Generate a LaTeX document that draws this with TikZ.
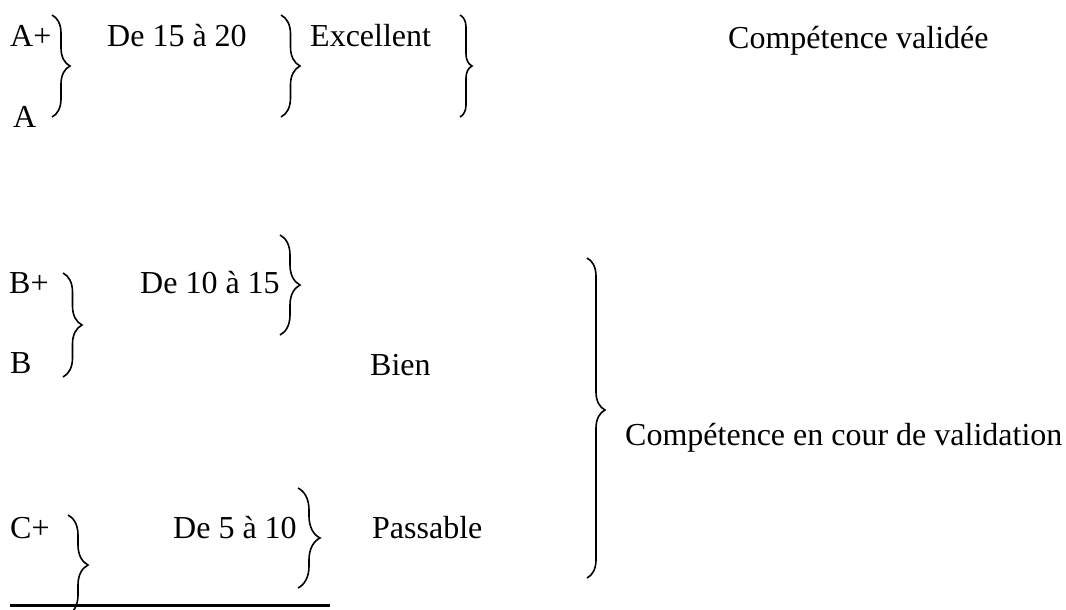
\documentclass[tikz,border=0pt]{standalone}
\usepackage{fontspec}
\setmainfont{Liberation Serif}
\usetikzlibrary{decorations.pathreplacing}
\begin{document}
\begin{tikzpicture}[x=1pt,y=-1pt,
  lbl/.style={anchor=base west,inner sep=0pt,font=\fontsize{32}{38}\selectfont},
  brc/.style={decorate,decoration={brace,amplitude=#1},line width=1.6pt},
  brc/.default=18pt]
\useasboundingbox (0,0) rectangle (1066,610);
\clip (0,0) rectangle (1066,610);
% texts
\node[lbl] (Ap) at (10,47) {A+};
\node[lbl] (A) at (13,128) {A};
\node[lbl] (r1) at (107,47) {De 15 à 20};
\node[lbl] (exc) at (310,47) {Excellent};
\node[lbl] (cv) at (728,49) {Compétence validée};
\node[lbl] (Bp) at (9,293) {B+};
\node[lbl] (B) at (10,373) {B};
\node[lbl] (r2) at (140,293) {De 10 à 15};
\node[lbl] (bien) at (370,375) {Bien};
\node[lbl] (cec) at (625,445) {Compétence en cour de validation};
\node[lbl] (Cp) at (10,538) {C+};
\node[lbl] (r3) at (173,538) {De 5 à 10};
\node[lbl] (pass) at (372,538) {Passable};
% brace end points
\coordinate (b1t) at (52,15);  \coordinate (b1b) at (52,117);
\coordinate (b2t) at (281,15); \coordinate (b2b) at (281,117);
\coordinate (b3t) at (460,15); \coordinate (b3b) at (460,117);
\coordinate (b4t) at (63,273); \coordinate (b4b) at (63,377);
\coordinate (b5t) at (280,235); \coordinate (b5b) at (280,335);
\coordinate (b6t) at (587,258); \coordinate (b6b) at (587,578);
\coordinate (b7t) at (68,515); \coordinate (b7b) at (68,615);
\coordinate (b8t) at (298,488); \coordinate (b8b) at (298,588);
\coordinate (l1) at (10,605); \coordinate (l2) at (330,605);
% braces
\draw[brc=18pt] (b1t) -- (b1b);
\draw[brc=19pt] (b2t) -- (b2b);
\draw[brc=12pt] (b3t) -- (b3b);
\draw[brc=19pt] (b4t) -- (b4b);
\draw[brc=20pt] (b5t) -- (b5b);
\draw[decorate,decoration={brace,amplitude=18pt,aspect=0.475},line width=1.6pt] (b6t) -- (b6b);
\draw[brc=20pt] (b7t) -- (b7b);
\draw[brc=22pt] (b8t) -- (b8b);
\draw[line width=3pt] (l1) -- (l2);
\end{tikzpicture}
\end{document}
